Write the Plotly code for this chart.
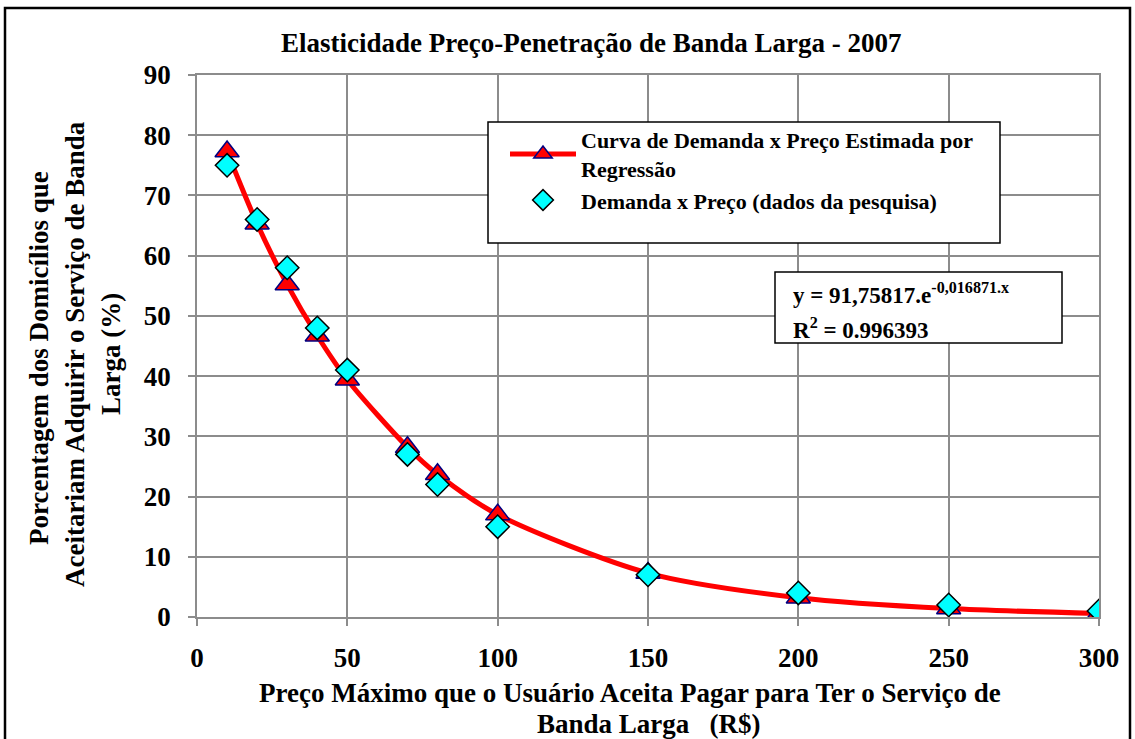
import plotly.graph_objects as go

# Preço máximo aceito (R$)
precos = [10, 20, 30, 40, 50, 70, 80, 100, 150, 200, 250, 300]
# Curva estimada por regressão (%)
demanda_estimada = [77.3, 65.3, 55.2, 46.7, 39.4, 28.2, 23.7, 17.0, 7.3, 3.2, 1.4, 0.6]
# Dados da pesquisa (%)
demanda_pesquisa = [75, 66, 58, 48, 41, 27, 22, 15, 7, 4, 2, 1]

x_ticks = [0, 50, 100, 150, 200, 250, 300]
y_ticks = [0, 10, 20, 30, 40, 50, 60, 70, 80, 90]

W, H = 1135, 739
L, R, T, B = 197, 36, 75, 122
PW, PH = W - L - R, H - T - B

def px(xp):
    return (xp - L) / PW

def py(yp):
    return (H - B - yp) / PH

FONT = "Liberation Serif"
GRID = "#8c8c8c"

fig = go.Figure()

fig.add_trace(go.Scatter(
    x=precos, y=demanda_estimada,
    mode="lines+markers",
    name="Curva de Demanda x Preço Estimada por<br>Regressão",
    line=dict(color="#ff0000", width=5, shape="spline", smoothing=0.8),
    marker=dict(symbol="triangle-up", size=21, color="#ff0000",
                line=dict(color="#000080", width=1.5)),
))

fig.add_trace(go.Scatter(
    x=precos, y=demanda_pesquisa,
    mode="markers",
    name="Demanda x Preço (dados da pesquisa)",
    marker=dict(symbol="diamond", size=18, color="#00ffff",
                line=dict(color="#000000", width=1.5)),
))

axis_common = dict(
    showgrid=True, gridcolor=GRID, gridwidth=1.5,
    showline=True, linecolor=GRID, linewidth=1.5, mirror=True,
    ticks="outside", ticklen=7, tickcolor=GRID, tickwidth=1.5,
    tickfont=dict(family=FONT, size=27, color="#000000", weight="bold"),
    zeroline=False, fixedrange=True,
)

fig.update_xaxes(range=[0, 300], tickvals=x_ticks, ticklabelstandoff=9, **axis_common)
fig.update_yaxes(range=[0, 90], tickvals=y_ticks, ticklabelstandoff=12, **axis_common)

shapes = [
    # moldura externa
    dict(type="rect", xref="paper", yref="paper",
         x0=px(5), x1=px(1130), y0=py(745), y1=py(8),
         line=dict(color="#000000", width=2.5), fillcolor="rgba(0,0,0,0)", layer="below"),
    # caixa da legenda
    dict(type="rect", xref="paper", yref="paper",
         x0=px(488), x1=px(1000), y0=py(243), y1=py(122),
         line=dict(color="#000000", width=1.5), fillcolor="#ffffff", layer="above"),
    # caixa da equação
    dict(type="rect", xref="paper", yref="paper",
         x0=px(775), x1=px(1062), y0=py(343), y1=py(272),
         line=dict(color="#000000", width=1.5), fillcolor="#ffffff", layer="above"),
]

def label(text, x, y, size, angle=0, anchor="center"):
    return dict(text="<b>" + text + "</b>", xref="paper", yref="paper",
                x=px(x), y=py(y), showarrow=False, textangle=angle,
                xanchor=anchor, yanchor="middle", align="left",
                font=dict(family=FONT, size=size, color="#000000"))

annotations = [
    label("Elasticidade Preço-Penetração de Banda Larga - 2007", 591, 43, 27),
    label("Preço Máximo que o Usuário Aceita Pagar para Ter o Serviço de", 630, 693, 27),
    label("Banda Larga   (R$)", 649, 724, 27),
    label("Porcentagem dos Domicílios que", 39, 358, 27, angle=-90),
    label("Aceitariam Adquirir o Serviço de Banda", 75, 354, 27, angle=-90),
    label("Larga (%)", 111, 354, 27, angle=-90),
    label("y = 91,75817.e<sup>-0,016871.x</sup>", 791, 293, 23, anchor="left"),
    label("R<sup>2</sup> = 0.996393", 791, 328, 23, anchor="left"),
]

fig.update_layout(
    width=W, height=H,
    margin=dict(l=L, r=R, t=T, b=B, autoexpand=False),
    paper_bgcolor="#ffffff", plot_bgcolor="#ffffff",
    shapes=shapes, annotations=annotations,
    showlegend=True,
    legend=dict(
        x=px(505), y=py(119), xanchor="left", yanchor="top",
        bgcolor="rgba(0,0,0,0)", borderwidth=0,
        font=dict(family=FONT, size=22, color="#000000", weight="bold"),
        tracegroupgap=2, itemwidth=66,
    ),
)

fig.write_html("out.html")
